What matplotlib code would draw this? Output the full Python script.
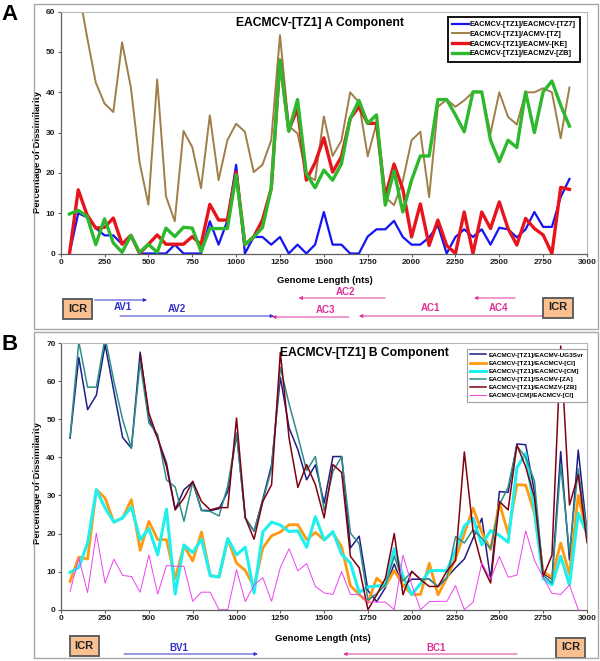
import matplotlib
matplotlib.use("Agg")
import matplotlib.pyplot as plt
from matplotlib.patches import Rectangle
from matplotlib.transforms import blended_transform_factory

plt.rcParams['font.family'] = ['Liberation Sans', 'DejaVu Sans']
plt.rcParams['font.weight'] = 'bold'

# ---------------- Panel A data ----------------
pos_A = list(range(50, 2901, 50))
a_tz7 = [0, 10, 9, 6.3, 4.5, 4.5, 2.3, 4.5, 0, 0, 0, 0, 2.2, 0, 0, 0, 8, 2.2, 8.1, 22,
         0, 4.1, 4.1, 2.2, 4.1, 0, 2.2, 0, 2.2, 10.3, 2.2, 2.2, 0, 0, 4.2, 6, 6, 8.1, 4.1, 2.2,
         2.2, 4, 7, 0, 4.1, 6, 4.1, 6, 2.2, 6.4, 6, 4, 6, 10.3, 6.6, 6.6, 14, 18.5]
pos_A_acmv = pos_A[1:]
a_acmv = [66, 53.8, 42.4, 37.2, 35.1, 52.4, 41.2, 22.5, 12.1, 43.2, 14.2, 8, 30.4, 26.4, 16.2,
          34.3, 18.2, 28.1, 32.2, 30.2, 20.2, 22, 28.1, 54.2, 31.6, 29.8, 19.5, 18.2, 34, 24.2,
          28, 40, 37.5, 24.1, 32.3, 14, 12, 18, 28.1, 30.2, 14, 36.4, 38.2, 36.4, 38, 40, 40,
          29.8, 40, 33.9, 32, 40, 40, 41, 40, 28.6, 41.2]
a_ke = [0, 15.8, 9.6, 6.3, 6.5, 8.8, 2.3, 4.5, 0, 2.3, 4.6, 2.3, 2.3, 2.3, 4.2, 2.2, 12.2, 8.3,
        8.3, 20.2, 2.2, 4.1, 8.3, 16.1, 48, 30.6, 36, 18.2, 22.5, 28.7, 20.2, 24, 33.5, 36.4,
        32.3, 32.3, 14, 22.2, 16, 4.1, 12.3, 2, 8.3, 2, 0, 10.3, 0, 10.3, 6.2, 12.8, 6.2, 2.1,
        8.7, 6.2, 4.6, 0, 16.4, 15.9]
a_zb = [9.8, 10.7, 9.2, 2.2, 8.6, 2.6, 0.3, 4.5, 0.3, 2.3, 0.3, 6.3, 4.2, 6.5, 6.3, 0.5, 6.2,
        6.2, 6.2, 19.5, 2.2, 4.1, 6.4, 16.1, 48, 30.3, 38.2, 19.8, 16.3, 20.7, 18.2, 22.2, 33.5,
        38, 32.3, 34.4, 12, 20.5, 10.3, 18.2, 24.2, 24.2, 38.2, 38.2, 34.4, 30.2, 40.1, 40.1,
        28.1, 22.8, 28.1, 26.3, 40.1, 30, 40.1, 42.8, 36.8, 31.6]
labels_A = ['EACMCV-[TZ1]/EACMCV-[TZ7]', 'EACMCV-[TZ1]/ACMV-[TZ]',
            'EACMCV-[TZ1]/EACMV-[KE]', 'EACMCV-[TZ1]/EACMZV-[ZB]']

# ---------------- Panel B data ----------------
pos_B = list(range(50, 3001, 50))
b_ug = [45, 66.2, 52.5, 56.3, 69.6, 57.3, 45.2, 42.4, 67.6, 50.1, 45, 38.5, 26.3, 31.5, 33.5,
        26.1, 26, 26.5, 31, 46.2, 24.1, 20.6, 29, 38, 61, 47.7, 42, 34.1, 38, 28, 40.2, 40.2,
        16.2, 19.3, 5, 2.1, 5.8, 12, 6.1, 8, 8, 8, 6.1, 8.5, 11, 13.3, 18.8, 24, 8, 31, 30.8,
        43.5, 43.3, 31, 9.5, 8, 41.5, 13, 41.9, 20.2]
b_ci = [7.4, 13.8, 13.3, 31.5, 29.3, 23, 24.1, 28.9, 15.6, 23.2, 18.4, 18.4, 8.2, 16.8, 12.8,
        20.4, 9, 8.6, 18.6, 12.2, 10.3, 6, 16.2, 19.4, 20.4, 22.3, 22.3, 18.4, 20.3, 18.3, 20.2,
        16.5, 6.3, 4, 1.9, 8.3, 6.2, 10.3, 6.5, 4, 4, 12.2, 3.9, 8.3, 13.5, 20, 26.7, 20.3,
        15.8, 28, 20, 32.8, 32.7, 25.3, 10, 8.5, 17.5, 9.2, 30, 20]
b_cm = [9.8, 11.1, 17.5, 31.5, 26.7, 23, 24.1, 27, 18.4, 21.3, 14.4, 26.4, 4.1, 17, 15, 18.5,
        8.9, 8.6, 18.7, 14.4, 16.4, 4.4, 20.4, 23, 22.2, 20.5, 20.7, 16.4, 24.4, 18.3, 20.5,
        14.5, 12.2, 4.5, 6, 6.2, 6.5, 16, 8.7, 4, 6.8, 10.2, 10.3, 10.2, 15.5, 22, 24, 17, 20.8,
        19.5, 17.7, 37.3, 41, 26, 8.2, 6.5, 14, 6.5, 25.3, 20]
b_za = [45.3, 70.3, 58.4, 58.4, 71.5, 60, 49.9, 42.4, 65, 49, 46, 34.1, 32.2, 23.2, 33.5, 26,
        25.8, 24.6, 32.5, 46.4, 24.1, 20.6, 28.5, 37, 63.6, 54, 45.5, 36.5, 40.2, 26, 36.3, 40.2,
        20.1, 17.3, 2.5, 4.2, 6.5, 14, 7.5, 10, 8, 8, 6, 8.3, 19.2, 17.5, 21, 18.8, 16, 27.5,
        32.2, 43, 40, 33.8, 9, 7, 38, 15, 37, 20]
pos_B_zb = pos_B[8:]
b_zb = [67, 51.6, 45, 37.6, 26.2, 29.3, 33.7, 28.4, 26.2, 26.8, 26.8, 50.3, 24.1, 18.5, 28.4,
        32.8, 67.6, 45, 32.1, 38.1, 32.8, 24.1, 38.1, 36, 14, 11, 0, 3.9, 8.3, 20, 3.9, 10.1,
        7.9, 6.1, 6.1, 10.1, 12.9, 41.4, 20.6, 11.8, 7, 28.4, 26.2, 43.2, 37.5, 29.5, 8.7,
        14.3, 69.2, 27.5, 35.4, 17.6]
pos_B_cmci = pos_B[:59]
b_cmci = [4.8, 13.6, 4.5, 20.1, 7, 13.3, 9, 8.7, 4.6, 14.4, 4.1, 11.6, 11.4, 11.4, 2.2, 4.6,
          4.6, 0, 0, 10.5, 2.1, 6.5, 8.4, 2.2, 11.1, 16, 10.2, 12.1, 6.1, 4.4, 4, 10, 4, 4, 2,
          2, 2, 0, 14.3, 6.5, 0, 2.1, 2.2, 2.2, 6.3, 0, 2, 12.3, 8, 14, 8.5, 9.1, 20.7, 13, 8.5,
          4.3, 4, 6.5, 0]
labels_B = ['EACMCV-[TZ1]/EACMV-UG3Svr', 'EACMCV-[TZ1]/EACMCV-[CI]',
            'EACMCV-[TZ1]/EACMCV-[CM]', 'EACMCV-[TZ1]/SACMV-[ZA]',
            'EACMCV-[TZ1]/EACMZV-[ZB]', 'EACMCV-[CM]/EACMCV-[CI]']

# gene maps (genome positions, nts)
genes_A = [('AV1', 193, 492, 'v'), ('AV2', 338, 1216, 'v'), ('AC3', 1643, 1205, 'c'),
           ('AC2', 1849, 1356, 'c'), ('AC1', 2749, 1700, 'c'), ('AC4', 2590, 2356, 'c')]
genes_B = [('BV1', 358, 1122, 'v'), ('BC1', 2601, 1609, 'c')]
icr_A = [96, 2835]
icr_B = [130, 2906]

W, H = 600.0, 661.0
def fx(px): return px / W
def fy(py): return 1 - py / H

fig = plt.figure(figsize=(6, 6.61), dpi=100)

# panel frames
for (x0, y0, x1, y1) in [(33.5, 4, 598, 329), (33.5, 331.5, 598, 658)]:
    fig.add_artist(Rectangle((fx(x0), fy(y1)), (x1 - x0) / W, (y1 - y0) / H,
                             transform=fig.transFigure, fill=False, ec='#A8A8A8', lw=1.0))
fig.text(fx(9), fy(14), 'A', fontsize=16, ha='center', va='center', weight='bold')
fig.text(fx(9.5), fy(345), 'B', fontsize=16, ha='center', va='center', weight='bold')

axA = fig.add_axes([fx(60.7), fy(253.5), (587 - 60.7) / W, (253.5 - 11.7) / H])
axB = fig.add_axes([fx(61.3), fy(609.7), (587 - 61.3) / W, (609.7 - 343) / H])

def style(ax, ymax):
    ax.set_xlim(0, 3000)
    ax.set_ylim(0, ymax)
    ax.set_xticks(range(0, 3001, 250))
    ax.set_yticks(range(0, ymax + 1, 10))
    ax.tick_params(direction='out', length=2.5, width=0.8, pad=1.5, labelsize=6,
                   colors='#202020')
    ax.tick_params(color='#606060')
    for s in ['left', 'bottom']:
        ax.spines[s].set_color('#606060'); ax.spines[s].set_linewidth(0.9)
    for s in ['top', 'right']:
        ax.spines[s].set_color('#B8B8B8'); ax.spines[s].set_linewidth(0.8)
    ax.set_xlabel('Genome Length (nts)', fontsize=6.8, weight='bold')
    ax.set_ylabel('Percentage of Dissimilarity', fontsize=6.8, weight='bold')

style(axA, 60)
style(axB, 70)

axA.plot(pos_A, a_tz7, color='#1414F5', lw=1.6, label=labels_A[0])
axA.plot(pos_A_acmv, a_acmv, color='#A07E48', lw=1.4, label=labels_A[1])
axA.plot(pos_A, a_ke, color='#E8141C', lw=2.4, label=labels_A[2])
axA.plot(pos_A, a_zb, color='#2DB82D', lw=2.4, label=labels_A[3])

axB.plot(pos_B, b_ug, color='#1E1E86', lw=1.1, label=labels_B[0])
axB.plot(pos_B, b_ci, color='#FF9A10', lw=2.0, label=labels_B[1])
axB.plot(pos_B, b_cm, color='#1EF0F0', lw=2.2, label=labels_B[2])
axB.plot(pos_B, b_za, color='#2E8E8A', lw=1.1, label=labels_B[3])
axB.plot(pos_B_zb, b_zb, color='#800010', lw=1.1, label=labels_B[4])
axB.plot(pos_B_cmci, b_cmci, color='#F040F0', lw=0.7, label=labels_B[5])

axA.xaxis.set_label_coords(0.501, -0.093)
axA.yaxis.set_label_coords(-0.036, 0.421)
axB.xaxis.set_label_coords(0.497, -0.091)
axB.yaxis.set_label_coords(-0.036, 0.475)

axA.text(0.493, 0.953, 'EACMCV-[TZ1] A Component', transform=axA.transAxes,
         ha='center', va='center', fontsize=8.7, weight='bold')
axB.text(0.577, 0.9636, 'EACMCV-[TZ1] B Component', transform=axB.transAxes,
         ha='center', va='center', fontsize=8.7, weight='bold')

legA = axA.legend(loc='upper left', bbox_to_anchor=(0.735, 0.979), borderaxespad=0,
                  fontsize=5.3, handlelength=2.3, handletextpad=0.1, labelspacing=0.33,
                  borderpad=0.6, fancybox=False, framealpha=1, edgecolor='black')
legA.get_frame().set_linewidth(1.3)
legB = axB.legend(loc='upper left', bbox_to_anchor=(0.771, 0.9775), borderaxespad=0,
                  fontsize=4.6, handlelength=2.6, handletextpad=0.4, labelspacing=0.42,
                  borderpad=0.5, fancybox=False, framealpha=1, edgecolor='#A0A0A0')
legB.get_frame().set_linewidth(0.8)

col = {'v': '#3030C8', 'c': '#E0309A'}

def draw_genes(ax, genes, rows):
    tr = blended_transform_factory(ax.transData, fig.transFigure)
    for (name, start, end, strand) in genes:
        ay, ty, tx = rows[name]
        ax.annotate('', xy=(end, fy(ay)), xytext=(start, fy(ay)),
                    xycoords=tr, textcoords=tr, annotation_clip=False,
                    arrowprops=dict(arrowstyle='-|>', color=col[strand], lw=0.7,
                                    mutation_scale=5, shrinkA=0, shrinkB=0))
        ax.text(tx, fy(ty), name, transform=tr, ha='center', va='center',
                fontsize=7, weight='bold', color=col[strand])

def draw_icr(ax, xs, ys):
    tr = blended_transform_factory(ax.transData, fig.transFigure)
    for x, y in zip(xs, ys):
        ax.text(x, fy(y), 'ICR', transform=tr, ha='center', va='center', fontsize=8,
                weight='bold', color='#202020',
                bbox=dict(boxstyle='square,pad=0.45', fc='#FAC090', ec='#606060', lw=1.4))

rows_A = {'AV1': (300, 307, 352), 'AV2': (316, 309, 663), 'AC3': (317, 310, 1507),
          'AC2': (298, 292, 1624), 'AC1': (316, 308, 2105), 'AC4': (298, 308, 2498)}
rows_B = {'BV1': (654, 648, 673), 'BC1': (654, 648, 2139)}
draw_genes(axA, genes_A, rows_A)
draw_genes(axB, genes_B, rows_B)
draw_icr(axA, icr_A, [309, 307.5])
draw_icr(axB, icr_B, [646, 647.5])

fig.savefig('out.png', dpi=100)
